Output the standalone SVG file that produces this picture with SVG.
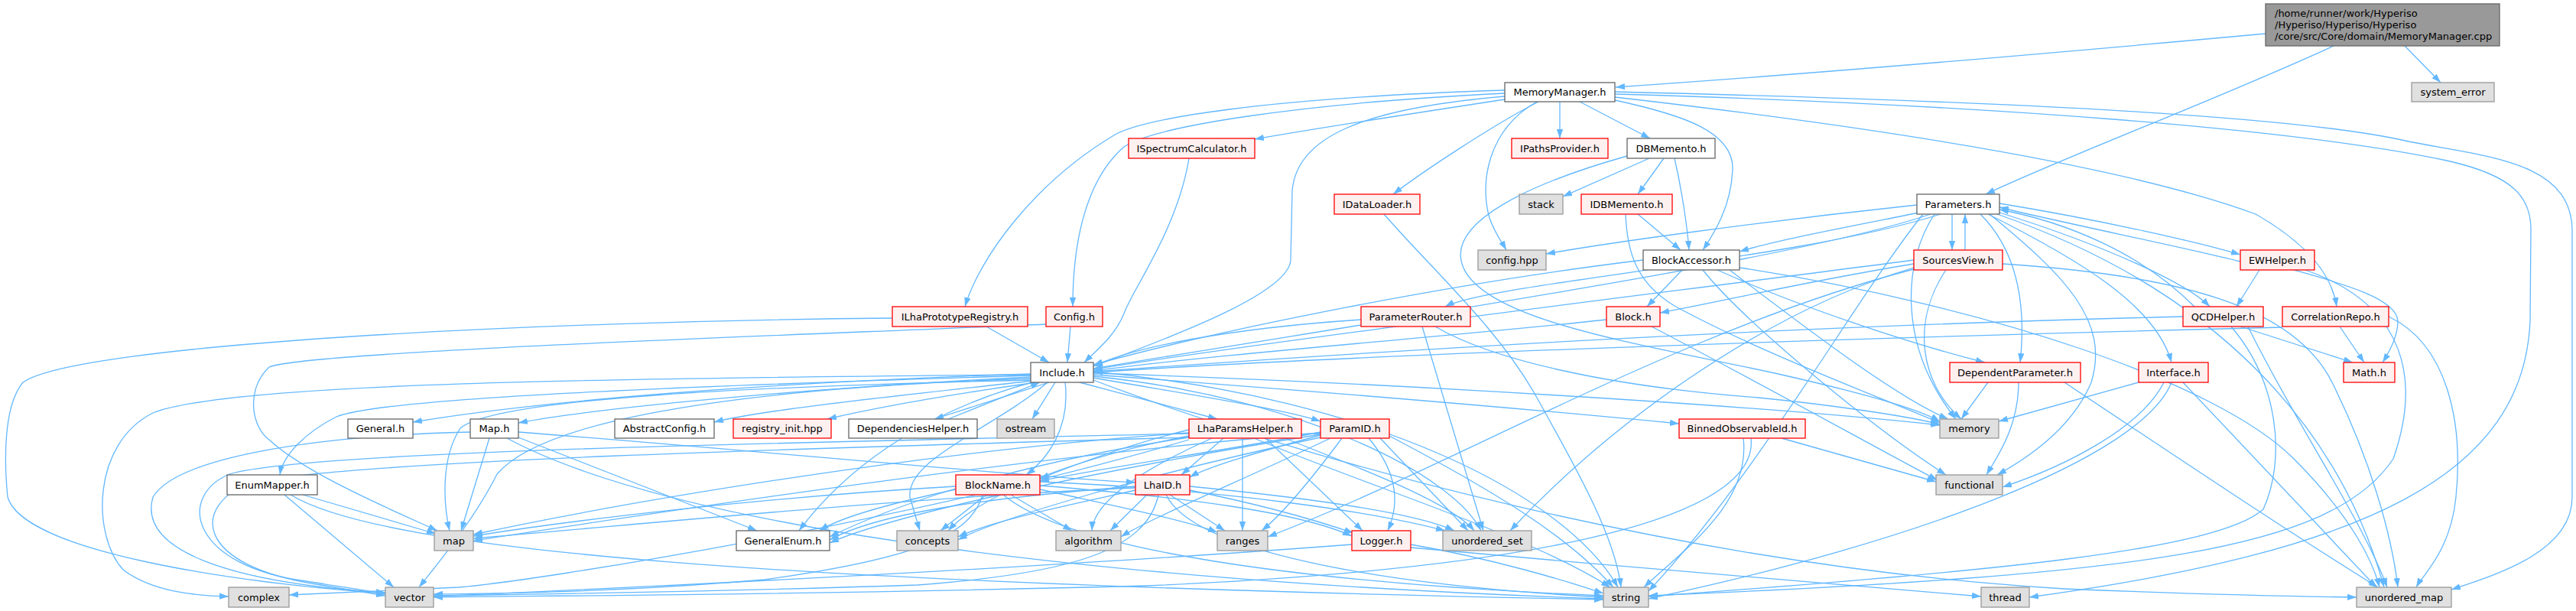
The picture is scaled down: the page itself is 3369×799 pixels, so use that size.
<svg xmlns="http://www.w3.org/2000/svg" width="3369" height="799" viewBox="0 0 3369 799">
<style>
.e{fill:none;stroke:#63B8FF;stroke-width:1.3;marker-end:url(#a)}
rect{stroke-width:1.3}
.w rect{fill:#FFFFFF;stroke:#666666}
.r rect{fill:#FFF0F0;stroke:#FF0000}
.g rect{fill:#E0E0E0;stroke:#999999}
.t rect{fill:#999999;stroke:#666666}
text{font-family:"DejaVu Sans","Liberation Sans",sans-serif;font-size:13px;fill:#000000;text-anchor:middle}
.t text{text-anchor:start}
</style>
<defs>
<marker id="a" viewBox="0 0 10 7" refX="10" refY="3.5" markerWidth="12" markerHeight="8.4" markerUnits="userSpaceOnUse" orient="auto"><path d="M0,0L10,3.5L0,7z" fill="#63B8FF"/></marker>
</defs>
<rect width="3369" height="799" fill="#FFFFFF"/>
<g id="connectors">
<path class="e" d="M2963,44 C2700,68 2350,98 2113,114"/>
<path class="e" d="M3052,60 C2900,130 2700,205 2597,254"/>
<path class="e" d="M3145,60 L3192,108"/>
<path class="e" d="M1968,130 C1850,148 1720,168 1641,182"/>
<path class="e" d="M2040,133 L2040,181"/>
<path class="e" d="M2066,133 L2158,181"/>
<path class="e" d="M2012,133 C1950,165 1860,225 1822,254"/>
<path class="e" d="M2010,133 C1945,170 1935,240 1948,285 C1955,305 1965,318 1970,327"/>
<path class="e" d="M2112,131 C2200,150 2268,172 2266,222 C2264,270 2242,305 2227,327"/>
<path class="e" d="M1968,118 C1650,128 1500,155 1460,175 C1350,240 1280,340 1262,401"/>
<path class="e" d="M1968,122 C1700,135 1510,165 1470,192 C1415,240 1403,330 1403,401"/>
<path class="e" d="M1968,126 C1780,142 1695,180 1690,250 L1688,340 C1686,385 1520,445 1430,479"/>
<path class="e" d="M2112,127 C2400,160 2760,210 2950,280 C3020,320 3050,360 3056,401"/>
<path class="e" d="M2112,120 C2600,132 3000,150 3150,185 C3250,205 3362,210 3364,300 L3364,650 C3364,720 3270,750 3206,771"/>
<path class="e" d="M2112,123 C2600,137 3000,168 3200,210 C3290,230 3310,260 3310,300 L3309,420 C3300,620 3100,720 2654,781"/>
<path class="e" d="M1555,207 C1540,300 1480,380 1470,410 C1458,440 1432,460 1418,474"/>
<path class="e" d="M1810,280 C1880,360 1960,430 2010,520 C2060,610 2112,700 2120,768"/>
<path class="e" d="M2157,207 L2044,257"/>
<path class="e" d="M2176,207 L2142,254"/>
<path class="e" d="M2190,207 C2200,250 2207,300 2209,327"/>
<path class="e" d="M2128,204 C2000,240 1895,290 1912,345 C1935,420 2150,450 2330,490 C2440,515 2510,535 2537,551"/>
<path class="e" d="M2142,280 L2198,327"/>
<path class="e" d="M2126,280 C2128,330 2140,370 2190,400 C2300,460 2460,520 2537,553"/>
<path class="e" d="M2553,280 L2553,327"/>
<path class="e" d="M2570,327 L2570,280"/>
<path class="e" d="M2507,268 C2300,290 2100,318 2022,332"/>
<path class="e" d="M2510,278 C2400,300 2320,315 2275,329"/>
<path class="e" d="M2525,280 C2350,340 1800,420 1430,482"/>
<path class="e" d="M2538,280 C2350,340 1950,370 1890,401"/>
<path class="e" d="M2615,278 C2750,320 2860,370 2890,401"/>
<path class="e" d="M2870,401 C2800,330 2700,290 2615,274"/>
<path class="e" d="M2615,266 C2750,288 2880,318 2930,333"/>
<path class="e" d="M2930,342 C2850,322 2700,292 2615,271"/>
<path class="e" d="M2590,280 C2640,330 2650,400 2642,474"/>
<path class="e" d="M2600,280 C2720,340 2820,400 2840,474"/>
<path class="e" d="M2530,280 C2490,340 2480,450 2558,548"/>
<path class="e" d="M2602,280 C2700,360 2760,420 2735,500 C2710,560 2650,600 2612,621"/>
<path class="e" d="M2612,280 C2900,380 3060,560 3118,768"/>
<path class="e" d="M2515,280 C2420,400 2300,620 2156,773"/>
<path class="e" d="M2503,345 C2350,370 2250,395 2171,409"/>
<path class="e" d="M2503,340 C2200,380 1700,440 1430,483"/>
<path class="e" d="M2503,350 C2300,410 2100,560 1975,694"/>
<path class="e" d="M2545,353 C2500,420 2510,500 2565,548"/>
<path class="e" d="M2619,345 C2850,360 3000,400 3050,500 C3100,600 3128,700 3136,768"/>
<path class="e" d="M2503,352 C2200,430 1900,610 1658,702"/>
<path class="e" d="M2200,353 L2154,401"/>
<path class="e" d="M2149,340 C1900,370 1600,430 1430,477"/>
<path class="e" d="M2246,353 C2350,400 2500,450 2596,474"/>
<path class="e" d="M2227,353 C2280,420 2450,560 2545,621"/>
<path class="e" d="M2275,350 C2600,400 2900,500 3000,600 C3080,680 3105,740 3112,768"/>
<path class="e" d="M2262,353 C2350,420 2480,520 2548,548"/>
<path class="e" d="M1290,427 L1372,474"/>
<path class="e" d="M1167,416 C700,420 100,450 30,500 C5,530 5,600 10,650 C30,720 300,762 504,776"/>
<path class="e" d="M1400,427 L1396,474"/>
<path class="e" d="M1368,424 C1000,440 400,460 352,480 C320,510 330,560 352,575 C400,620 520,670 572,694"/>
<path class="e" d="M1780,418 C1600,430 1480,455 1430,479"/>
<path class="e" d="M1860,427 L1940,694"/>
<path class="e" d="M1877,427 C1950,470 2100,505 2300,520 C2400,530 2500,545 2537,555"/>
<path class="e" d="M2101,418 C1900,440 1600,462 1430,485"/>
<path class="e" d="M2160,427 C2300,500 2480,600 2534,628"/>
<path class="e" d="M2600,500 L2565,548"/>
<path class="e" d="M2640,500 C2640,560 2610,600 2598,621"/>
<path class="e" d="M2700,500 C2850,600 3000,700 3110,768"/>
<path class="e" d="M2797,500 L2614,551"/>
<path class="e" d="M2830,500 C2800,560 2700,610 2619,637"/>
<path class="e" d="M2855,500 L3108,768"/>
<path class="e" d="M2840,500 C2800,600 2500,710 2156,783"/>
<path class="e" d="M2955,353 L2925,401"/>
<path class="e" d="M3000,353 C3060,370 3135,390 3136,420 C3136,440 3125,460 3116,474"/>
<path class="e" d="M3015,353 C3150,400 3165,500 3130,600 C3050,720 2800,752 2156,779"/>
<path class="e" d="M2930,427 L3077,474"/>
<path class="e" d="M2855,414 C2400,425 1900,452 1430,486"/>
<path class="e" d="M2918,427 C2980,500 2990,600 2960,666 C2900,720 2600,748 2156,780"/>
<path class="e" d="M2940,427 C3000,550 3090,680 3122,768"/>
<path class="e" d="M3060,427 L3092,474"/>
<path class="e" d="M2985,428 C2500,440 1800,462 1430,487"/>
<path class="e" d="M3124,414 C3200,450 3222,550 3212,650 C3205,720 3170,750 3160,768"/>
<path class="e" d="M1348,489 C1000,500 700,525 540,552"/>
<path class="e" d="M1348,491 C900,505 500,520 440,545 C400,565 370,595 366,621"/>
<path class="e" d="M1348,493 C1100,505 800,530 678,553"/>
<path class="e" d="M1350,498 C1200,515 1000,535 934,552"/>
<path class="e" d="M1355,500 C1250,515 1150,532 1082,548"/>
<path class="e" d="M1372,500 L1222,548"/>
<path class="e" d="M1240,548 L1360,500"/>
<path class="e" d="M1380,500 L1350,548"/>
<path class="e" d="M1393,500 C1400,560 1370,600 1342,621"/>
<path class="e" d="M1412,500 L1592,548"/>
<path class="e" d="M1430,494 C1550,515 1680,535 1727,551"/>
<path class="e" d="M1430,490 C1700,510 2000,535 2196,554"/>
<path class="e" d="M1430,488 C1800,500 2300,530 2537,556"/>
<path class="e" d="M1348,497 C1000,505 650,520 602,560 C576,600 580,660 588,694"/>
<path class="e" d="M1348,490 C800,495 300,500 200,540 C120,580 120,700 161,745 C200,775 260,779 299,780"/>
<path class="e" d="M1430,486 C1800,520 2050,650 2116,768"/>
<path class="e" d="M1370,500 C1300,560 1185,600 1190,650 L1203,694"/>
<path class="e" d="M1430,492 C1700,520 1900,620 1937,694"/>
<path class="e" d="M1350,500 C1200,540 1100,620 1045,694"/>
<path class="e" d="M1430,497 C1700,600 2200,740 2700,770 C2900,778 3000,780 3082,781"/>
<path class="e" d="M1348,495 C900,510 700,560 650,620 C620,680 570,740 548,768"/>
<path class="e" d="M1555,562 C1480,580 1400,610 1360,626"/>
<path class="e" d="M1600,573 L1545,621"/>
<path class="e" d="M1555,570 C1400,600 1280,650 1240,694"/>
<path class="e" d="M1585,573 C1480,620 1430,660 1428,694"/>
<path class="e" d="M1625,573 L1625,694"/>
<path class="e" d="M1555,566 C1200,590 800,660 619,699"/>
<path class="e" d="M1555,567 C1000,580 400,590 300,620 C230,650 250,740 400,760 C450,768 480,772 504,777"/>
<path class="e" d="M1640,573 C1800,640 2000,700 2106,768"/>
<path class="e" d="M1555,572 C1300,610 1150,670 1085,702"/>
<path class="e" d="M1680,573 C1800,620 1900,660 1928,694"/>
<path class="e" d="M1655,573 L1782,694"/>
<path class="e" d="M1555,575 C1200,680 700,760 600,768 C500,773 420,776 378,778"/>
<path class="e" d="M1290,647 L1230,694"/>
<path class="e" d="M1322,647 L1402,694"/>
<path class="e" d="M1360,640 C1450,660 1550,680 1592,696"/>
<path class="e" d="M1250,640 C1180,655 1100,675 1072,694"/>
<path class="e" d="M1250,636 C1000,650 750,680 619,701"/>
<path class="e" d="M1285,647 C1270,700 1200,730 1000,758 C800,775 650,776 567,777"/>
<path class="e" d="M1312,647 C1400,720 1700,762 2097,779"/>
<path class="e" d="M1360,635 C1550,650 1700,670 1768,701"/>
<path class="e" d="M1360,630 C1600,640 1800,670 1890,694"/>
<path class="e" d="M1500,647 L1452,694"/>
<path class="e" d="M1530,647 L1602,694"/>
<path class="e" d="M1485,641 C1400,660 1300,680 1253,702"/>
<path class="e" d="M1485,638 C1200,650 900,680 619,704"/>
<path class="e" d="M1485,636 C1300,650 1150,670 1085,706"/>
<path class="e" d="M1515,647 C1500,720 1400,750 1200,765 C900,775 700,777 567,779"/>
<path class="e" d="M1525,647 C1560,720 1800,765 2097,781"/>
<path class="e" d="M1556,641 C1650,660 1720,680 1770,697"/>
<path class="e" d="M1556,636 C1700,650 1850,670 1902,694"/>
<path class="e" d="M1790,573 C1830,620 1830,660 1815,694"/>
<path class="e" d="M1805,573 L1920,694"/>
<path class="e" d="M1817,570 C1950,640 2050,700 2110,768"/>
<path class="e" d="M1727,565 C1600,590 1450,610 1360,629"/>
<path class="e" d="M1727,569 C1650,590 1580,610 1556,624"/>
<path class="e" d="M1727,572 C1500,620 1300,680 1253,706"/>
<path class="e" d="M1740,573 C1620,630 1500,680 1466,702"/>
<path class="e" d="M1755,573 C1720,620 1680,670 1650,694"/>
<path class="e" d="M1727,568 C1400,620 1150,680 1085,710"/>
<path class="e" d="M1727,566 C1300,600 800,680 619,707"/>
<path class="e" d="M1727,567 C1100,585 500,600 330,630 C250,660 250,740 420,765 C460,772 480,775 504,779"/>
<path class="e" d="M1845,712 C1950,730 2050,760 2097,776"/>
<path class="e" d="M1768,712 C1400,740 900,765 567,780"/>
<path class="e" d="M1845,716 C2100,740 2400,762 2591,780"/>
<path class="e" d="M2330,573 L2532,630"/>
<path class="e" d="M2280,573 C2290,660 2200,720 2150,768"/>
<path class="e" d="M2290,573 C2300,660 2100,740 1500,766 C1000,779 700,779 567,781"/>
<path class="e" d="M640,573 L603,694"/>
<path class="e" d="M678,572 L990,694"/>
<path class="e" d="M663,573 C900,700 1500,762 2097,783"/>
<path class="e" d="M678,565 C1000,590 1300,620 1485,631"/>
<path class="e" d="M615,565 C400,570 230,600 200,650 C180,720 300,762 504,775"/>
<path class="e" d="M372,647 L515,768"/>
<path class="e" d="M396,647 L570,698"/>
<path class="e" d="M380,647 C500,720 1000,762 2097,784"/>
</g>
<g id="n_top" class="t"><rect x="2963" y="5" width="306" height="55"/><text x="2975" y="22">/home/runner/work/Hyperiso</text><text x="2975" y="37">/Hyperiso/Hyperiso/Hyperiso</text><text x="2975" y="52">/core/src/Core/domain/MemoryManager.cpp</text></g>
<g id="n_MemoryManager" class="w"><rect x="1968" y="108" width="144" height="25"/><text x="2040" y="125">MemoryManager.h</text></g>
<g id="n_system_error" class="g"><rect x="3154" y="108" width="108" height="25"/><text x="3208" y="125">system_error</text></g>
<g id="n_ISpectrumCalculator" class="r"><rect x="1476" y="181" width="165" height="26"/><text x="1558.5" y="198.5">ISpectrumCalculator.h</text></g>
<g id="n_IPathsProvider" class="r"><rect x="1977" y="181" width="126" height="26"/><text x="2040" y="198.5">IPathsProvider.h</text></g>
<g id="n_DBMemento" class="w"><rect x="2128" y="181" width="115" height="26"/><text x="2185.5" y="198.5">DBMemento.h</text></g>
<g id="n_IDataLoader" class="r"><rect x="1745" y="254" width="112" height="26"/><text x="1801" y="271.5">IDataLoader.h</text></g>
<g id="n_stack" class="g"><rect x="1987" y="254" width="57" height="26"/><text x="2015.5" y="271.5">stack</text></g>
<g id="n_IDBMemento" class="r"><rect x="2068" y="254" width="119" height="26"/><text x="2127.5" y="271.5">IDBMemento.h</text></g>
<g id="n_Parameters" class="w"><rect x="2507" y="254" width="108" height="26"/><text x="2561" y="271.5">Parameters.h</text></g>
<g id="n_config_hpp" class="g"><rect x="1933" y="327" width="89" height="26"/><text x="1977.5" y="344.5">config.hpp</text></g>
<g id="n_BlockAccessor" class="w"><rect x="2149" y="327" width="126" height="26"/><text x="2212" y="344.5">BlockAccessor.h</text></g>
<g id="n_SourcesView" class="r"><rect x="2503" y="327" width="116" height="26"/><text x="2561" y="344.5">SourcesView.h</text></g>
<g id="n_EWHelper" class="r"><rect x="2930" y="327" width="97" height="26"/><text x="2978.5" y="344.5">EWHelper.h</text></g>
<g id="n_ILhaPrototypeRegistry" class="r"><rect x="1167" y="401" width="177" height="26"/><text x="1255.5" y="418.5">ILhaPrototypeRegistry.h</text></g>
<g id="n_Config" class="r"><rect x="1368" y="401" width="74" height="26"/><text x="1405" y="418.5">Config.h</text></g>
<g id="n_ParameterRouter" class="r"><rect x="1780" y="401" width="143" height="26"/><text x="1851.5" y="418.5">ParameterRouter.h</text></g>
<g id="n_Block" class="r"><rect x="2101" y="401" width="70" height="26"/><text x="2136" y="418.5">Block.h</text></g>
<g id="n_QCDHelper" class="r"><rect x="2855" y="401" width="105" height="26"/><text x="2907.5" y="418.5">QCDHelper.h</text></g>
<g id="n_CorrelationRepo" class="r"><rect x="2985" y="401" width="139" height="26"/><text x="3054.5" y="418.5">CorrelationRepo.h</text></g>
<g id="n_Include" class="w"><rect x="1348" y="474" width="82" height="26"/><text x="1389" y="491.5">Include.h</text></g>
<g id="n_DependentParameter" class="r"><rect x="2550" y="474" width="171" height="26"/><text x="2635.5" y="491.5">DependentParameter.h</text></g>
<g id="n_Interface" class="r"><rect x="2797" y="474" width="91" height="26"/><text x="2842.5" y="491.5">Interface.h</text></g>
<g id="n_Math" class="r"><rect x="3065" y="474" width="67" height="26"/><text x="3098.5" y="491.5">Math.h</text></g>
<g id="n_General" class="w"><rect x="455" y="548" width="85" height="25"/><text x="497.5" y="565">General.h</text></g>
<g id="n_Map_h" class="w"><rect x="615" y="548" width="63" height="25"/><text x="646.5" y="565">Map.h</text></g>
<g id="n_AbstractConfig" class="w"><rect x="804" y="548" width="130" height="25"/><text x="869" y="565">AbstractConfig.h</text></g>
<g id="n_registry_init" class="r"><rect x="959" y="548" width="128" height="25"/><text x="1023" y="565">registry_init.hpp</text></g>
<g id="n_DependenciesHelper" class="w"><rect x="1110" y="548" width="168" height="25"/><text x="1194" y="565">DependenciesHelper.h</text></g>
<g id="n_ostream" class="g"><rect x="1304" y="548" width="75" height="25"/><text x="1341.5" y="565">ostream</text></g>
<g id="n_LhaParamsHelper" class="r"><rect x="1555" y="548" width="147" height="25"/><text x="1628.5" y="565">LhaParamsHelper.h</text></g>
<g id="n_ParamID" class="r"><rect x="1727" y="548" width="90" height="25"/><text x="1772" y="565">ParamID.h</text></g>
<g id="n_BinnedObservableId" class="r"><rect x="2196" y="548" width="165" height="25"/><text x="2278.5" y="565">BinnedObservableId.h</text></g>
<g id="n_memory" class="g"><rect x="2537" y="548" width="77" height="25"/><text x="2575.5" y="565">memory</text></g>
<g id="n_EnumMapper" class="w"><rect x="297" y="621" width="118" height="26"/><text x="356" y="638.5">EnumMapper.h</text></g>
<g id="n_BlockName" class="r"><rect x="1250" y="621" width="110" height="26"/><text x="1305" y="638.5">BlockName.h</text></g>
<g id="n_LhaID" class="r"><rect x="1485" y="621" width="71" height="26"/><text x="1520.5" y="638.5">LhaID.h</text></g>
<g id="n_functional" class="g"><rect x="2532" y="621" width="87" height="26"/><text x="2575.5" y="638.5">functional</text></g>
<g id="n_map" class="g"><rect x="568" y="694" width="51" height="26"/><text x="593.5" y="711.5">map</text></g>
<g id="n_GeneralEnum" class="w"><rect x="963" y="694" width="122" height="26"/><text x="1024" y="711.5">GeneralEnum.h</text></g>
<g id="n_concepts" class="g"><rect x="1173" y="694" width="80" height="26"/><text x="1213" y="711.5">concepts</text></g>
<g id="n_algorithm" class="g"><rect x="1381" y="694" width="85" height="26"/><text x="1423.5" y="711.5">algorithm</text></g>
<g id="n_ranges" class="g"><rect x="1592" y="694" width="66" height="26"/><text x="1625" y="711.5">ranges</text></g>
<g id="n_Logger" class="r"><rect x="1768" y="694" width="77" height="26"/><text x="1806.5" y="711.5">Logger.h</text></g>
<g id="n_unordered_set" class="g"><rect x="1887" y="694" width="116" height="26"/><text x="1945" y="711.5">unordered_set</text></g>
<g id="n_complex" class="g"><rect x="299" y="768" width="79" height="26"/><text x="338.5" y="785.5">complex</text></g>
<g id="n_vector" class="g"><rect x="504" y="768" width="63" height="26"/><text x="535.5" y="785.5">vector</text></g>
<g id="n_string" class="g"><rect x="2097" y="768" width="59" height="26"/><text x="2126.5" y="785.5">string</text></g>
<g id="n_thread" class="g"><rect x="2591" y="768" width="63" height="26"/><text x="2622.5" y="785.5">thread</text></g>
<g id="n_unordered_map" class="g"><rect x="3082" y="768" width="124" height="26"/><text x="3144" y="785.5">unordered_map</text></g>
</svg>
